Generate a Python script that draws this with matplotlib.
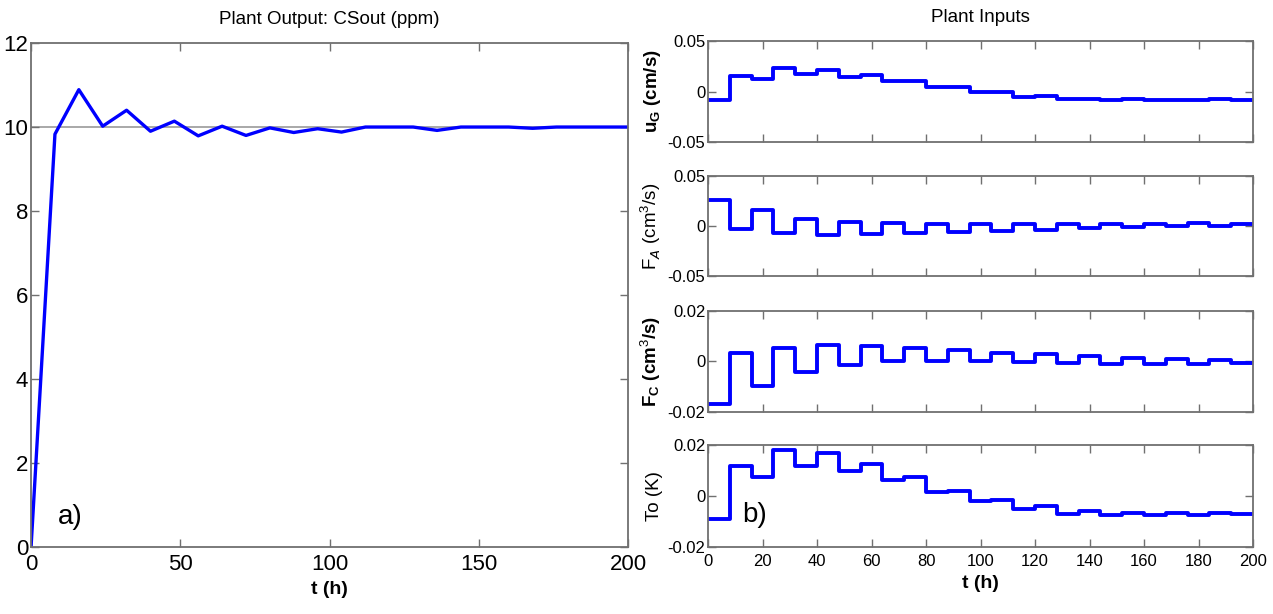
import numpy as np
import matplotlib
matplotlib.use("Agg")
import matplotlib.pyplot as plt

plt.rcParams['font.family'] = ['Liberation Sans', 'DejaVu Sans']
plt.rcParams['mathtext.fontset'] = 'custom'
plt.rcParams['mathtext.rm'] = 'Liberation Sans'
plt.rcParams['mathtext.bf'] = 'Liberation Sans:bold'

# Plant output, sampled every 8 h
t_out = np.arange(0, 201, 8)
cs_out = [0, 9.83, 10.89, 10.02, 10.4, 9.9, 10.14, 9.79, 10.02, 9.8, 9.98, 9.87, 9.96,
          9.88, 10.0, 10.0, 10.0, 9.92, 10.0, 10.0, 10.0, 9.97, 10.0, 10.0, 10.0, 10.0]
setpoint = 10

# Plant inputs, one value per 8 h interval (0-8, 8-16, ..., 192-200)
t_in = np.arange(0, 201, 8)
u_g = [-0.008, 0.015, 0.012, 0.023, 0.017, 0.021, 0.014, 0.016, 0.010, 0.010, 0.004, 0.004,
       0.000, 0.000, -0.005, -0.004, -0.007, -0.007, -0.008, -0.007, -0.008, -0.008, -0.008,
       -0.007, -0.008]
f_a = [0.026, -0.003, 0.016, -0.0066, 0.0073, -0.0086, 0.004, -0.0076, 0.003, -0.007, 0.0023,
       -0.006, 0.0023, -0.005, 0.0023, -0.0037, 0.002, -0.002, 0.002, -0.001, 0.002, 0.0003,
       0.0027, 0.0, 0.0017]
f_c = [-0.017, 0.0032, -0.0096, 0.0054, -0.004, 0.0067, -0.0013, 0.0062, 0.0, 0.0054, 0.0003,
       0.0047, 0.0003, 0.0035, -0.0001, 0.0028, -0.0004, 0.0023, -0.0008, 0.0012, -0.0009,
       0.0008, -0.0008, 0.0007, -0.0005]
t_o = [-0.0092, 0.0116, 0.0075, 0.018, 0.0116, 0.0168, 0.01, 0.0125, 0.0063, 0.0075, 0.0016,
       0.0021, -0.002, -0.0016, -0.0049, -0.004, -0.007, -0.0059, -0.0076, -0.0067, -0.0076,
       -0.0067, -0.0076, -0.0067, -0.007]

input_series = [u_g, f_a, f_c, t_o]
input_labels = [r'$\mathbf{u_G}$ (cm/s)', r'F$_A$ (cm$^3$/s)', r'$\mathbf{F_C}$ (cm$^3$/s)', 'To (K)']
label_bold = [True, False, True, False]
input_ylims = [(-0.05, 0.05), (-0.05, 0.05), (-0.02, 0.02), (-0.02, 0.02)]

spine_col = '#707070'
blue = '#0000ff'


def style_axes(ax, size):
    for s in ax.spines.values():
        s.set_color(spine_col)
        s.set_linewidth(1.3)
    ax.tick_params(direction='in', top=True, right=True, length=6, width=1,
                   color=spine_col, labelsize=size, pad=2)


fig = plt.figure(figsize=(12.73, 6.14), dpi=100)

# a) plant output
ax = fig.add_axes([0.0244, 0.1091, 0.469, 0.8208])
ax.axhline(setpoint, color='#9a9a9a', lw=1.2, zorder=1)
ax.plot(t_out, cs_out, color=blue, lw=2.4, zorder=2)
ax.set_xlim(0, 200)
ax.set_ylim(0, 12)
ax.set_xticks(np.arange(0, 201, 50))
ax.set_yticks(np.arange(0, 13, 2))
style_axes(ax, 16)
ax.tick_params(axis='x', pad=5)
ax.set_title('Plant Output: CSout (ppm)', fontsize=13.5, pad=14)
ax.set_xlabel('t (h)', fontsize=14, fontweight='bold', labelpad=4)
ax.text(0.065, 0.06, 'a)', transform=ax.transAxes, fontsize=20,
        ha='center', va='center')

# b) plant inputs
bottoms = [0.7687, 0.5505, 0.329, 0.1091]
heights = [0.1645, 0.1629, 0.1645, 0.1661]
axes = []
for i in range(4):
    a = fig.add_axes([0.5562, bottoms[i], 0.4281, heights[i]])
    vals = input_series[i] + [input_series[i][-1]]
    a.step(t_in, vals, where='post', color=blue, lw=2.8)
    a.set_xlim(0, 200)
    a.set_ylim(*input_ylims[i])
    lo, hi = input_ylims[i]
    a.set_yticks([lo, 0, hi])
    a.set_yticklabels([f'{lo:g}', '0', f'{hi:g}'])
    a.set_xticks(np.arange(0, 201, 20))
    style_axes(a, 12)
    a.tick_params(axis='x', pad=5)
    a.set_ylabel(input_labels[i], fontsize=13.5,
                 fontweight='bold' if label_bold[i] else 'normal', labelpad=3)
    if i < 3:
        a.tick_params(labelbottom=False)
    axes.append(a)

axes[0].set_title('Plant Inputs', fontsize=13.5, pad=14)
axes[3].set_xlabel('t (h)', fontsize=14, fontweight='bold', labelpad=4)
axes[3].text(0.086, 0.31, 'b)', transform=axes[3].transAxes, fontsize=20,
             ha='center', va='center')
fig.align_ylabels(axes)

fig.savefig('out.png', dpi=100)
